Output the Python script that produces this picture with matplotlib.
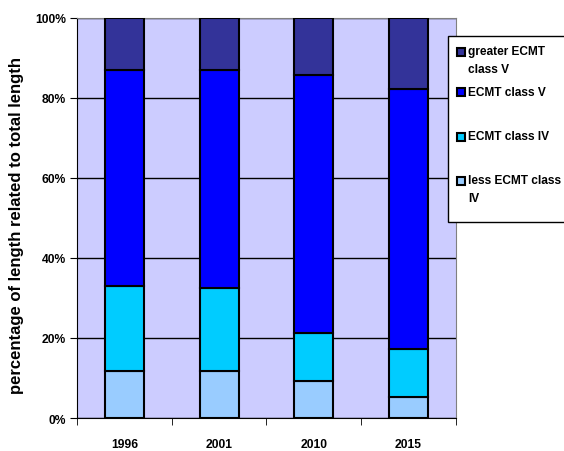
import numpy as np
import matplotlib.pyplot as plt
from matplotlib.patches import Rectangle

plt.rcParams['font.family'] = ['Liberation Sans', 'DejaVu Sans']
plt.rcParams['font.weight'] = 'bold'

# data (percent of total length)
years = ['1996', '2001', '2010', '2015']
less_iv = [11.7, 11.7, 9.3, 5.2]
class_iv = [21.3, 20.9, 11.9, 12.0]
class_v = [54.0, 54.4, 64.6, 65.1]
greater_v = [13.0, 13.0, 14.2, 17.7]

series = [less_iv, class_iv, class_v, greater_v]
labels = ['less ECMT class\nIV', 'ECMT class IV', 'ECMT class V', 'greater ECMT\nclass V']
colors = ['#99CCFF', '#00CCFF', '#0000FF', '#333399']

fig = plt.figure(figsize=(5.64, 4.52), dpi=100)
ax = fig.add_axes([0.1365, 0.073, 0.672, 0.885])
ax.set_facecolor('#CCCCFF')

x = np.arange(len(years))
bottom = np.zeros(len(years))
for vals, c in zip(series, colors):
    ax.bar(x, vals, width=0.41, bottom=bottom, color=c, edgecolor='black',
           linewidth=1.5, zorder=3)
    bottom += np.array(vals)

ax.set_xlim(-0.5, len(years) - 0.5)
ax.set_ylim(0, 100)
ax.set_yticks(np.arange(0, 101, 20))
ax.set_yticklabels([f'{v}%' for v in range(0, 101, 20)], fontsize=8.7)
ax.yaxis.grid(True, color='black', linewidth=1, zorder=0)
ax.set_axisbelow(True)

ax.set_xticks(x)
ax.set_xticklabels(years, fontsize=8.7)
ax.tick_params(axis='x', which='major', length=0, pad=14.5)
ax.set_xticks(np.arange(-0.5, len(years), 1), minor=True)
ax.tick_params(axis='x', which='minor', length=5, direction='out', color='black')
ax.tick_params(axis='y', length=5, direction='out', pad=3)

for s in ['top', 'right']:
    ax.spines[s].set_color('#808080')
for s in ['left', 'bottom']:
    ax.spines[s].set_color('black')

ax.set_ylabel('percentage of length related to total length', fontsize=12,
              fontweight='bold')
ax.yaxis.set_label_coords(-0.14, 0.4825)

# legend drawn Excel-style: first line of each entry aligned with its marker
W, H = 564.0, 452.0
fig.patches.append(Rectangle((448 / W, 1 - 223 / H), 130 / W, 186 / H,
                             transform=fig.transFigure, facecolor='white',
                             edgecolor='black', linewidth=1, zorder=5))
entry_y = [53, 93, 138, 182]
for lab, c, yy in zip(labels[::-1], colors[::-1], entry_y):
    fig.patches.append(Rectangle((457 / W, 1 - (yy + 4) / H), 8 / W, 8 / H,
                                 transform=fig.transFigure, facecolor=c,
                                 edgecolor='black', linewidth=1.5, zorder=6))
    fig.text(468 / W, 1 - (yy - 6.5) / H, lab, fontsize=8.6, va='top', ha='left',
             linespacing=1.65, zorder=7)

fig.savefig('out.png', dpi=100)
